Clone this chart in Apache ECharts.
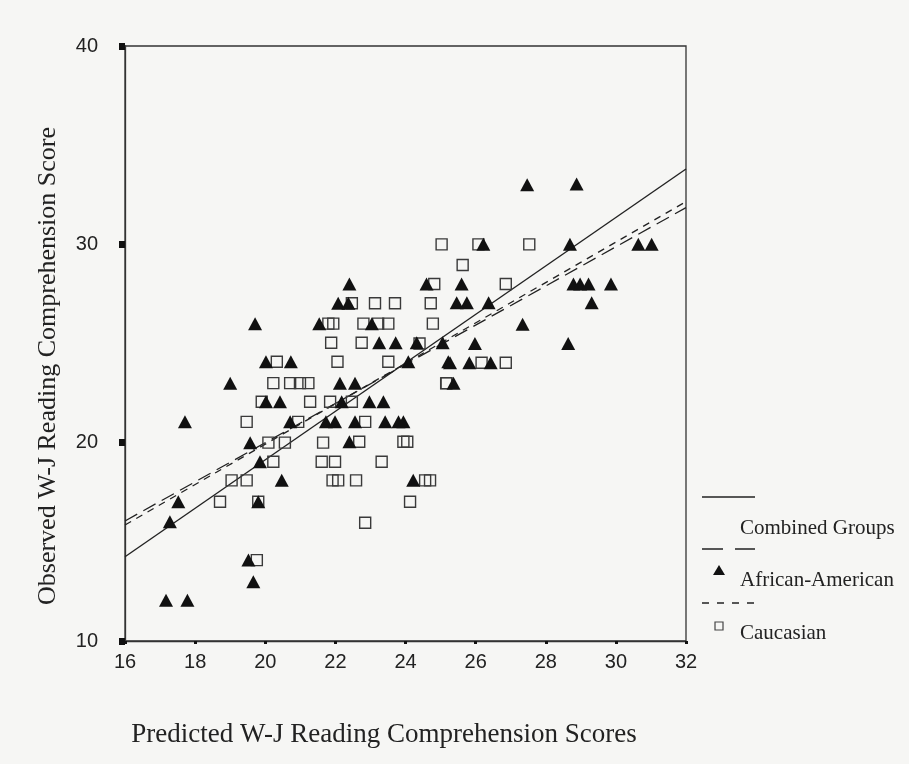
<!DOCTYPE html>
<html><head><meta charset="utf-8">
<script src="https://cdn.jsdelivr.net/npm/echarts@6/dist/echarts.min.js"></script>
<style>html,body{margin:0;padding:0;background:#f6f6f4;}#c{width:909px;height:764px;}</style>
</head><body><div id="c"></div>
<script>
// Tick labels
var xTicks = [16, 18, 20, 22, 24, 26, 28, 30, 32];
var yTicks = [10, 20, 30, 40];

// African-American observations [predicted, observed]
var africanAmerican = [
  [19.71,26.0],[20.02,24.08],[20.73,24.08],[19.0,23.0],[20.02,22.06],[20.42,22.06],
  [17.71,21.05],[20.71,21.05],[19.57,20.0],[19.85,19.04],[20.47,18.1],[19.8,17.02],
  [17.52,17.02],[17.28,16.01],[19.52,14.08],[19.66,12.99],[17.17,12.06],[17.78,12.06],
  [22.4,28.0],[24.6,28.0],[22.08,27.03],[22.37,27.03],[21.54,26.0],[23.04,26.0],
  [23.25,25.04],[23.72,25.04],[24.32,25.04],[25.06,25.04],[24.08,24.08],[25.22,24.08],
  [22.13,23.0],[22.56,23.0],[22.18,22.06],[22.97,22.06],[23.37,22.06],
  [21.73,21.05],[21.99,21.05],[22.56,21.05],[23.42,21.05],[23.8,21.05],[23.94,21.05],
  [22.4,20.05],[24.22,18.1],[26.22,30.0],[28.69,30.0],[25.6,28.0],
  [28.79,28.0],[28.98,28.0],[29.22,28.0],[25.46,27.05],[25.75,27.05],[26.37,27.05],
  [29.31,27.05],[27.34,25.97],[25.98,25.0],[28.64,25.0],
  [25.27,24.03],[25.82,24.03],[26.43,24.03],[25.37,22.99],
  [28.88,33.04],[27.47,33.0],[30.64,30.0],[31.02,30.0],[29.86,28.0]
];

// Caucasian observations [predicted, observed]
var caucasian = [
  [20.33,24.08],[20.23,23.0],[20.71,23.0],[20.99,23.0],[21.23,23.0],[19.9,22.06],
  [21.28,22.06],[19.47,21.05],[20.94,21.05],[20.09,20.0],[20.56,20.0],[20.23,19.04],
  [19.04,18.1],[19.47,18.1],[21.61,19.04],[21.99,19.04],[21.92,18.1],[22.08,18.1],
  [22.59,18.1],[18.71,17.02],[19.8,17.02],[19.76,14.08],[24.82,28.0],[22.47,27.03],
  [23.13,27.03],[23.7,27.03],[24.72,27.03],[21.8,26.0],[21.94,26.0],[22.8,26.0],
  [23.22,26.0],[23.51,26.0],[24.78,26.0],[21.88,25.04],[22.75,25.04],[24.4,25.0],
  [22.06,24.08],[23.51,24.08],[25.17,23.0],[21.85,22.06],[22.47,22.06],[22.85,21.05],
  [22.68,20.05],[23.94,20.05],[24.05,20.05],[21.65,20.0],[23.32,19.04],
  [24.56,18.1],[24.7,18.1],[25.03,30.0],[26.08,30.0],[27.53,30.0],[25.63,28.96],
  [26.86,28.0],[26.17,24.03],[26.86,24.03],[25.16,22.99],[24.13,17.02],[22.85,15.96]
];

// Regression lines (endpoints)
var combinedLine = [[16,14.25],[32,33.8]];
var aaLine = [[16,16.05],[32,31.85]];
var cauLine = [[16,15.85],[32,32.15]];

var chart = echarts.init(document.getElementById('c'), null, {renderer:'canvas'});
var ink = '#222';
var serif = '"Liberation Serif","DejaVu Serif",serif';
var sans = '"Liberation Sans",Arial,sans-serif';

chart.setOption({
  backgroundColor: '#f6f6f4',
  animation: false,
  grid: {left:125, right:223, top:46, bottom:123, show:true, borderColor:'#333', borderWidth:1.3, backgroundColor:'transparent'},
  xAxis: {
    type:'value', min:16, max:32, interval:2,
    axisLine:{show:true, lineStyle:{color:'#333', width:1.3}},
    axisTick:{show:true, length:3, inside:false, lineStyle:{color:'#111', width:3}},
    splitLine:{show:false},
    axisLabel:{color:'#222', fontFamily:sans, fontSize:20, margin:11,
      formatter:function(v){return xTicks.indexOf(v)>=0? String(v):'';}}
  },
  yAxis: {
    type:'value', min:10, max:40, interval:10,
    axisLine:{show:true, lineStyle:{color:'#333', width:1.3}},
    axisTick:{show:true, length:6, lineStyle:{color:'#111', width:7}},
    splitLine:{show:false},
    axisLabel:{color:'#222', fontFamily:sans, fontSize:20, margin:27,
      formatter:function(v){return yTicks.indexOf(v)>=0? String(v):'';}}
  },
  series: [
    {name:'Combined Groups', type:'line', data:combinedLine, showSymbol:false, symbol:'none',
      lineStyle:{color:ink, width:1.4, type:'solid'}, z:3},
    {name:'African-American line', type:'line', data:aaLine, showSymbol:false, symbol:'none',
      lineStyle:{color:ink, width:1.3, type:[14,7]}, z:3},
    {name:'Caucasian line', type:'line', data:cauLine, showSymbol:false, symbol:'none',
      lineStyle:{color:ink, width:1.3, type:[7,6]}, z:3},
    {name:'Caucasian', type:'scatter', data:caucasian, symbol:'rect', symbolSize:11,
      itemStyle:{color:'rgba(0,0,0,0)', borderColor:'#3a3a3a', borderWidth:1.4, opacity:1}, z:4},
    {name:'African-American', type:'scatter', data:africanAmerican, symbol:'triangle', symbolSize:[14,13],
      itemStyle:{color:'#111', opacity:1}, z:5}
  ],
  graphic: [
    {type:'text', x:384, y:735, style:{text:'Predicted W-J Reading Comprehension Scores', fill:'#222', font:'27px '+serif, textAlign:'center', textVerticalAlign:'middle'}},
    {type:'text', x:48, y:366, rotation:Math.PI/2, style:{text:'Observed W-J Reading Comprehension Score', fill:'#222', font:'26px '+serif, textAlign:'center', textVerticalAlign:'middle'}},
    {type:'line', shape:{x1:702, y1:497, x2:755, y2:497}, style:{stroke:ink, lineWidth:1.3}},
    {type:'text', x:740, y:528, style:{text:'Combined Groups', fill:'#222', font:'21px '+serif, textVerticalAlign:'middle'}},
    {type:'line', shape:{x1:702, y1:549, x2:755, y2:549}, style:{stroke:ink, lineWidth:1.3, lineDash:[21,12]}},
    {type:'polygon', shape:{points:[[719,565],[713,575],[725,575]]}, style:{fill:'#111'}},
    {type:'text', x:740, y:580, style:{text:'African-American', fill:'#222', font:'21px '+serif, textVerticalAlign:'middle'}},
    {type:'line', shape:{x1:702, y1:603, x2:755, y2:603}, style:{stroke:ink, lineWidth:1.3, lineDash:[7,8]}},
    {type:'rect', shape:{x:715, y:622, width:8, height:8}, style:{fill:'none', stroke:'#444', lineWidth:1.2}},
    {type:'text', x:740, y:633, style:{text:'Caucasian', fill:'#222', font:'21px '+serif, textVerticalAlign:'middle'}}
  ]
});
</script></body></html>
